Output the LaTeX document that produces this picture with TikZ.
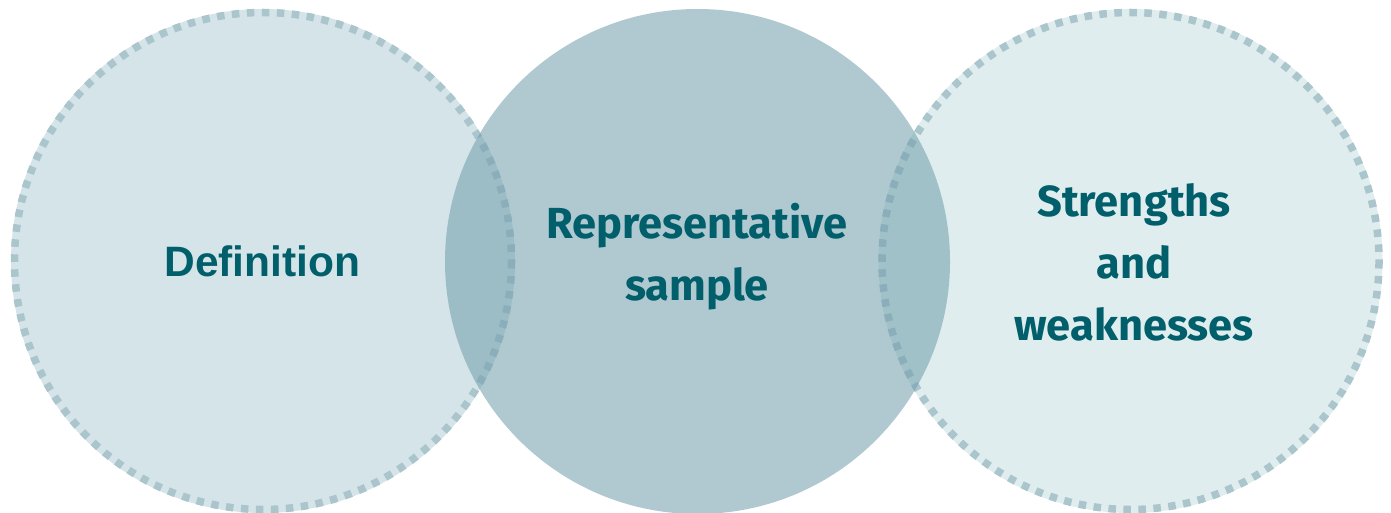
\documentclass[tikz,border=0pt]{standalone}
\usepackage{fontspec}
\setmainfont{Liberation Sans}
\newfontfamily\curvyfont{Fira Sans}
\definecolor{lfill}{HTML}{D5E4E8}
\definecolor{rfill}{HTML}{E0EDEF}
\definecolor{mfill}{HTML}{6F9DAB}
\definecolor{dashc}{HTML}{ABC5CD}
\definecolor{txt}{HTML}{005F6B}
\tikzset{
  ringdash/.style={draw=dashc, line width=7.5pt, dash pattern=on 7.5pt off 7.5pt},
  lbl/.style={text=txt, font=\bfseries\fontsize{42.5}{62}\selectfont, align=center, inner sep=0pt},
  clbl/.style={text=txt, font=\curvyfont\bfseries\fontsize{43.5}{62}\selectfont, align=center, inner sep=0pt}
}
\begin{document}
\begin{tikzpicture}[x=1pt,y=-1pt]
\useasboundingbox (0,0) rectangle (1391,513);
\coordinate (cl) at (263,261);
\coordinate (cm) at (697.5,261.5);
\coordinate (cr) at (1130.5,261);
% left circle
\fill[lfill] (cl) circle[radius=252];
\draw[ringdash] (cl) circle[radius=248.5];
% right circle
\fill[rfill] (cr) circle[radius=252];
\draw[ringdash] (cr) circle[radius=248.5];
% middle circle
\fill[mfill, fill opacity=0.55] (cm) circle[radius=252.5];
% labels
\node[lbl, anchor=base] (def) at (262.5,276) {Definition};
\node[clbl, anchor=base] (rep) at (697,300) {Representative\\sample};
\node[clbl, anchor=base] (sw) at (1134,340) {Strengths\\and\\weaknesses};
\end{tikzpicture}
\end{document}
